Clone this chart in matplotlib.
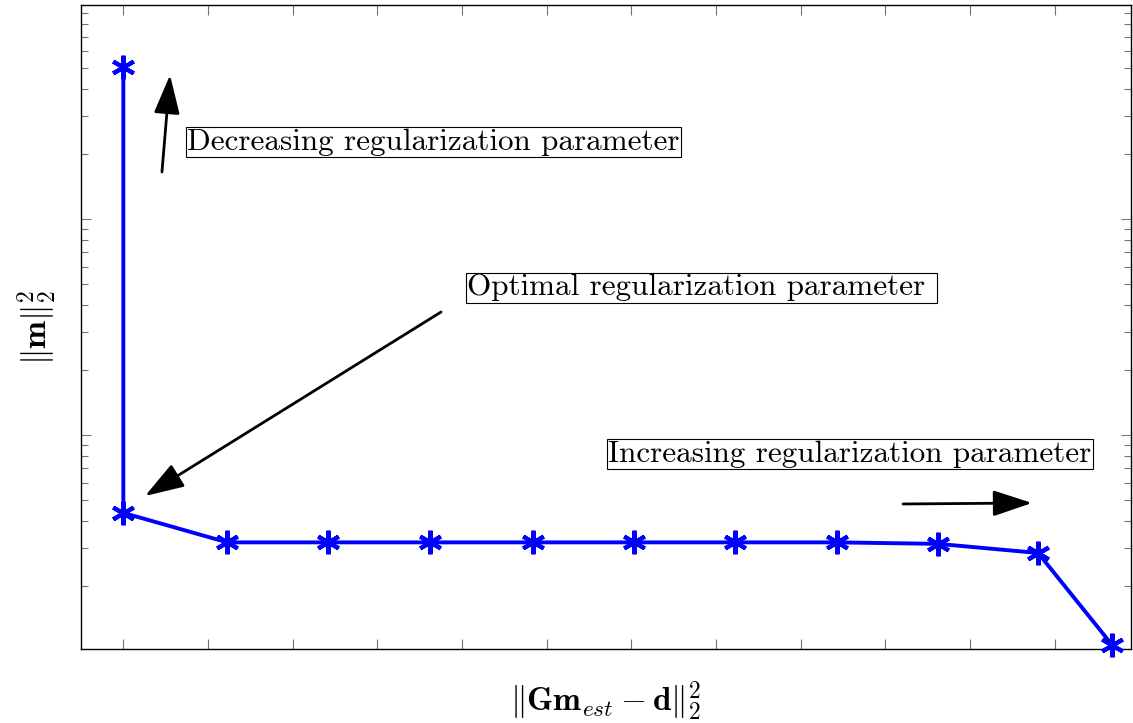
import matplotlib
matplotlib.use("Agg")
import matplotlib.pyplot as plt
from matplotlib.ticker import LogLocator, NullFormatter, FixedLocator

plt.rcParams['mathtext.fontset'] = 'cm'
plt.rcParams['axes.formatter.use_mathtext'] = True

# Data (axes carry no tick labels)
misfit = [0.0, 0.0, 1.228, 2.420, 3.625, 4.841, 6.033, 7.226, 8.430, 9.622, 10.803, 11.676]
model_norm = [50.5, 0.4355, 0.318, 0.318, 0.318, 0.318, 0.318, 0.318, 0.318, 0.313, 0.284, 0.1066]
x_ticks = list(range(0, 12))
y_major = [1, 10]

fig = plt.figure(figsize=(11.33, 7.23), dpi=100)
ax = fig.add_axes([81/1133, (723-649)/723, (1131-81)/1133, (649-5)/723])

ax.plot(misfit, model_norm, color='#0000ff', lw=2.8, marker=(6, 2, 0),
        markersize=17, markeredgewidth=3, markeredgecolor='#0000ff',
        solid_joinstyle='miter', clip_on=False, zorder=3)

ax.set_yscale('log')
ax.set_xlim(-0.5, 11.9)
ax.set_ylim(0.102, 98)
ax.xaxis.set_major_locator(FixedLocator(x_ticks))
ax.yaxis.set_major_locator(FixedLocator(y_major))
ax.yaxis.set_minor_locator(LogLocator(base=10, subs=[2, 3, 4, 5, 6, 7, 8, 9], numticks=20))
ax.xaxis.set_major_formatter(NullFormatter())
ax.yaxis.set_major_formatter(NullFormatter())
ax.yaxis.set_minor_formatter(NullFormatter())
ax.tick_params(which='both', direction='in', top=True, right=True, color='0.45', width=0.8)
ax.tick_params(which='major', length=7.5)
ax.tick_params(which='minor', length=5)
for s in ax.spines.values():
    s.set_linewidth(1.0)
    s.set_color('black')

ax.set_xlabel(r'$\Vert\mathbf{G}\mathbf{m}_{est} - \mathbf{d}\Vert_2^2$', fontsize=24, labelpad=18)
ax.set_ylabel(r'$\Vert\mathbf{m}\Vert_2^2$', fontsize=24, labelpad=12)

bbox = dict(boxstyle='square,pad=0.04', fc='white', ec='black', lw=0.8)
tkw = dict(transform=ax.transAxes, fontsize=22.4, family='cmr10', va='center', ha='left', bbox=bbox)
ax.text(0.101, 0.7873, 'Decreasing regularization parameter', **tkw)
ax.text(0.3677, 0.5613, 'Optimal regularization parameter ', **tkw)
ax.text(0.502, 0.3028, 'Increasing regularization parameter', **tkw)

aprops = dict(arrowstyle='-|>,head_length=1.2,head_width=0.4', color='black', lw=2,
              mutation_scale=20, shrinkA=0, shrinkB=0)
ax.annotate('', xy=(0.0848, 0.8913), xytext=(0.0771, 0.7407), xycoords='axes fraction', arrowprops=aprops)
ax.annotate('', xy=(0.0610, 0.2376), xytext=(0.3429, 0.5233), xycoords='axes fraction', arrowprops=aprops)
ax.annotate('', xy=(0.9057, 0.2267), xytext=(0.7829, 0.2252), xycoords='axes fraction', arrowprops=aprops)

fig.savefig('out.png', dpi=100)
